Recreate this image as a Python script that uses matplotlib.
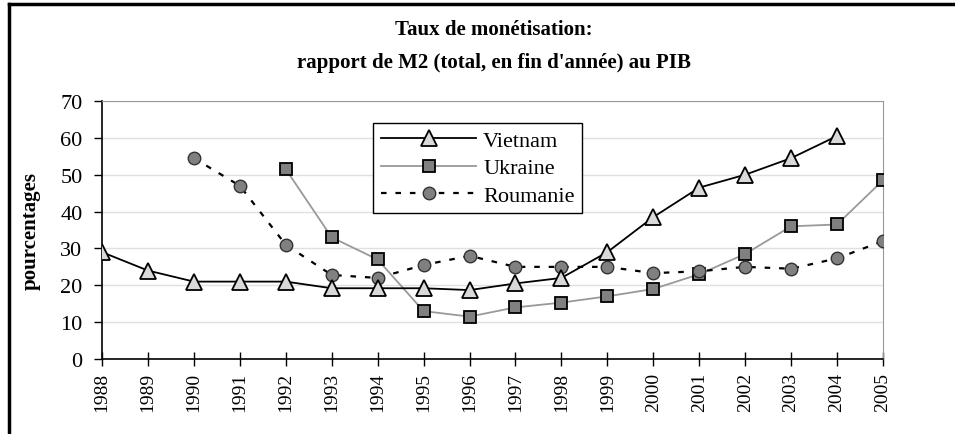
import matplotlib.pyplot as plt
from matplotlib.lines import Line2D

plt.rcParams['font.family'] = ['Liberation Serif', 'DejaVu Serif']

years = list(range(1988, 2006))

vietnam_years = list(range(1988, 2005))
vietnam = [29, 24, 21, 21, 21, 19.2, 19.2, 19.2, 18.7, 20.5, 22, 29, 38.5, 46.5, 50, 54.5, 60.5]

ukraine_years = list(range(1992, 2006))
ukraine = [51.5, 33, 27, 13, 11.5, 14, 15.3, 17, 19, 23, 28.5, 36, 36.5, 48.5]

roumanie_years = list(range(1990, 2006))
roumanie = [54.5, 47, 31, 22.8, 22, 25.5, 28, 25, 25, 25, 23.3, 23.8, 25, 24.5, 27.3, 32]

fig = plt.figure(figsize=(9.55, 4.35), dpi=100)
ax = fig.add_axes([0.1068, 0.1724, 0.8178, 0.5931])

ax.plot(vietnam_years, vietnam, color='black', lw=1.3, marker='^', markersize=12,
        markerfacecolor='#d9d9d9', markeredgecolor='black', markeredgewidth=1.3,
        label='Vietnam', zorder=4)
ax.plot(ukraine_years, ukraine, color='#999999', lw=1.3, marker='s', markersize=9,
        markerfacecolor='#808080', markeredgecolor='black', markeredgewidth=1.3,
        label='Ukraine', zorder=3)
ax.plot(roumanie_years, roumanie, color='black', lw=1.6, ls=(0, (2.5, 4)), marker='o',
        markersize=9, markerfacecolor='#808080', markeredgecolor='#333333',
        markeredgewidth=1.0, label='Roumanie', zorder=3)

ax.set_xlim(1988, 2005)
ax.set_ylim(0, 70)
ax.set_xticks(years)
ax.set_xticklabels([str(y) for y in years], rotation=90, fontsize=14)
ax.set_yticks(range(0, 71, 10))
ax.tick_params(axis='y', labelsize=16, direction='out', length=6, width=1, pad=8)
ax.tick_params(axis='x', direction='inout', length=10, width=1, pad=4)
ax.grid(axis='y', color='#e0e0e0', lw=1)
ax.set_axisbelow(True)
for s in ['top', 'right']:
    ax.spines[s].set_color('#999999')
ax.spines['left'].set_linewidth(1.2)
ax.spines['bottom'].set_linewidth(1.2)

ax.set_ylabel('pourcentages', fontsize=15, fontweight='bold', labelpad=14)

ax.legend(loc='upper left', bbox_to_anchor=(0.347, 0.915), fontsize=16, frameon=True,
          fancybox=False, edgecolor='black', framealpha=1, handlelength=4.3,
          borderpad=0.35, labelspacing=0.3, handletextpad=0.3, borderaxespad=0)

fig.text(0.517, 0.93, 'Taux de monétisation:', ha='center', va='center',
         fontsize=15, fontweight='bold')
fig.text(0.517, 0.855, "rapport de M2 (total, en fin d'année) au PIB", ha='center',
         va='center', fontsize=15, fontweight='bold')

# cadre extérieur
fig.add_artist(Line2D([0.0095, 1.0], [0.9885, 0.9885], color='black', lw=2.5,
                      transform=fig.transFigure))
fig.add_artist(Line2D([0.0095, 0.0095], [0.0, 0.9885], color='black', lw=2.5,
                      transform=fig.transFigure))

fig.savefig('out.png', dpi=100)
